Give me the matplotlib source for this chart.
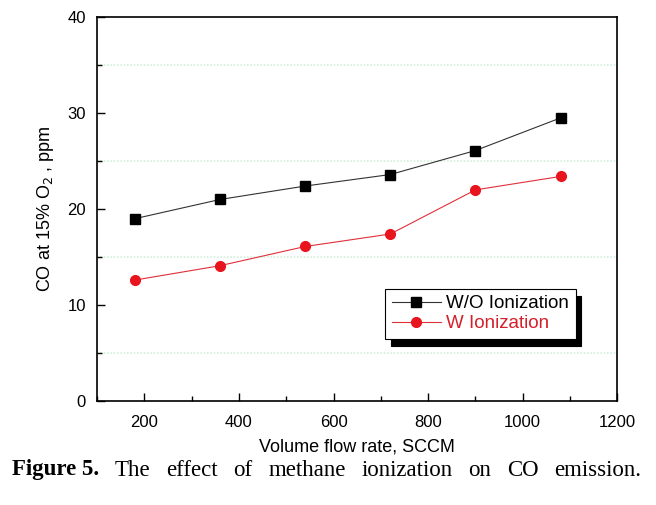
import matplotlib.pyplot as plt
from matplotlib.ticker import MultipleLocator

flow = [180, 360, 540, 720, 900, 1080]
co_wo = [19.0, 21.0, 22.4, 23.6, 26.1, 29.5]
co_w = [12.6, 14.1, 16.1, 17.4, 22.0, 23.4]

caption_head = 'Figure 5.'
caption_body = 'The effect of methane ionization on CO emission.'

plt.rcParams['font.family'] = ['Liberation Sans', 'DejaVu Sans']

fig = plt.figure(figsize=(6.56, 5.05), dpi=100)
ax = fig.add_axes([0.148, 0.206, 0.793, 0.760])

ax.plot(flow, co_wo, color='#333333', lw=0.8, marker='s', ms=6.5,
        mfc='black', mec='black', label='W/O Ionization')
ax.plot(flow, co_w, color='#e0303a', lw=0.8, marker='o', ms=7,
        mfc='#e8141e', mec='#e8141e', label='W Ionization')

ax.set_xlim(100, 1200)
ax.set_ylim(0, 40)
ax.xaxis.set_major_locator(MultipleLocator(200))
ax.xaxis.set_minor_locator(MultipleLocator(100))
ax.yaxis.set_major_locator(MultipleLocator(10))
ax.yaxis.set_minor_locator(MultipleLocator(5))
ax.tick_params(which='both', direction='in', top=False, right=False, labelsize=12)
ax.tick_params(which='major', length=6, width=1)
ax.tick_params(axis='x', which='major', pad=10)
ax.tick_params(axis='y', which='major', pad=8)
ax.tick_params(which='minor', length=3.5, width=1)
for s in ax.spines.values():
    s.set_linewidth(1.2)

for y in [5, 15, 25, 35]:
    ax.axhline(y, color='#d2f0dc', lw=1.2, ls=(0, (1, 1)), zorder=0)

ax.set_xlabel('Volume flow rate, SCCM', fontsize=13, labelpad=6)
ax.set_ylabel('CO at 15% O$_2$ , ppm', fontsize=13, labelpad=8)

leg = ax.legend(loc='lower left', bbox_to_anchor=(0.554, 0.162), borderaxespad=0,
                fontsize=13.5, frameon=True, fancybox=False, edgecolor='black',
                shadow={'color': 'black', 'alpha': 1, 'ox': 4, 'oy': -5},
                handlelength=2.6, handletextpad=0.3, labelspacing=0.15,
                borderpad=0.35)
leg.get_frame().set_linewidth(0.8)
leg.get_texts()[1].set_color('#d4202a')

# caption, justified across the width like the journal figure
fig.canvas.draw()
r = fig.canvas.get_renderer()
x0, x1, yc = 12, 641, 505 - 470
head = fig.text(x0 / 656, yc / 505, caption_head, family='Liberation Serif',
                fontweight='bold', fontsize=16.5, va='center')
hw = head.get_window_extent(r).width
words = caption_body.split()
ts = [fig.text(0, yc / 505, w, family='Liberation Serif', fontsize=16.5, va='center')
      for w in words]
ws = [t.get_window_extent(r).width for t in ts]
gap = (x1 - x0 - hw - sum(ws)) / len(words)
x = x0 + hw + gap
for t, w in zip(ts, ws):
    t.set_x(x / 656)
    x += w + gap

fig.savefig('out.png', dpi=100)
